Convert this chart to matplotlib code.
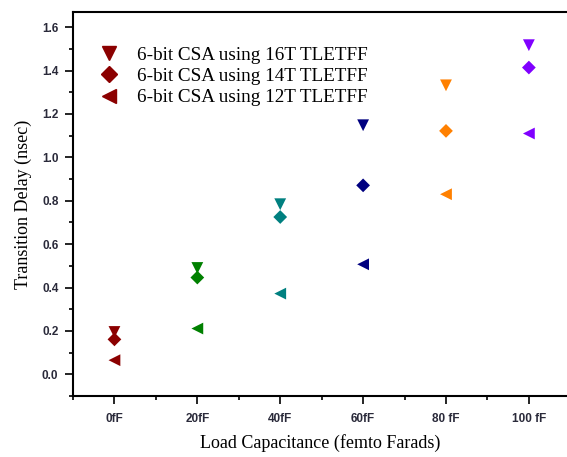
import numpy as np
import matplotlib
matplotlib.use("Agg")
import matplotlib.pyplot as plt
from matplotlib.ticker import MultipleLocator

# Load capacitance (fF) and transition delay (nsec)
loads = [0, 20, 40, 60, 80, 100]
tick_labels = ["0fF", "20fF", "40fF", "60fF", "80 fF", "100 fF"]
delay_16t = [0.195, 0.490, 0.784, 1.148, 1.332, 1.517]
delay_14t = [0.161, 0.446, 0.725, 0.871, 1.122, 1.414]
delay_12t = [0.065, 0.211, 0.372, 0.507, 0.830, 1.110]
point_colors = ["#8b0000", "#008000", "#008080", "#000080", "#ff8000", "#8000ff"]

series = [
    ("6-bit CSA using 16T TLETFF", delay_16t, "v"),
    ("6-bit CSA using 14T TLETFF", delay_14t, "D"),
    ("6-bit CSA using 12T TLETFF", delay_12t, "<"),
]

serif = "Liberation Serif"

fig = plt.figure(figsize=(5.67, 4.57), dpi=100)
ax = fig.add_axes([73 / 567, 1 - 396 / 457, 1 - 73 / 567, (396 - 12) / 457])

for label, vals, mk in series:
    ms = 7 if mk == "D" else 8.5
    ax.scatter(loads, vals, c=point_colors, marker=mk, s=ms**2, linewidths=0, zorder=3)
    # legend handle in dark red
    ax.plot([], [], linestyle="none", marker=mk, color="#8b0000",
            markersize=ms + 1.5, label=label)

ax.set_xlim(-10, 109.2)
ax.set_ylim(-0.1, 1.67)
ax.set_xticks(loads)
ax.set_xticklabels(tick_labels)
ax.xaxis.set_minor_locator(MultipleLocator(10))
ax.yaxis.set_major_locator(MultipleLocator(0.2))
ax.yaxis.set_minor_locator(MultipleLocator(0.1))
ax.yaxis.set_major_formatter(matplotlib.ticker.FormatStrFormatter("%.1f"))

for side in ["left", "bottom", "top"]:
    ax.spines[side].set_linewidth(1.5)
ax.spines["right"].set_visible(False)

ax.tick_params(which="major", direction="out", length=5.5, width=1.2,
               labelsize=8.5, labelcolor="#2a2a3a")
ax.tick_params(which="minor", direction="out", length=3, width=1.2)
for t in ax.get_xticklabels() + ax.get_yticklabels():
    t.set_fontfamily("Liberation Sans")
    t.set_fontweight("semibold")
ax.tick_params(axis="x", pad=7)
ax.tick_params(axis="y", pad=5)

ax.set_xlabel("Load Capacitance (femto Farads)", fontfamily=serif, fontsize=13, labelpad=6)
ax.set_ylabel("Transition Delay (nsec)", fontfamily=serif, fontsize=13, labelpad=7)

leg = ax.legend(loc="upper left", bbox_to_anchor=(0.015, 0.955), frameon=False,
                prop={"family": serif, "size": 13.8}, handletextpad=0.85,
                labelspacing=0.2, handlelength=1.2)

fig.savefig("out.png", dpi=100)
